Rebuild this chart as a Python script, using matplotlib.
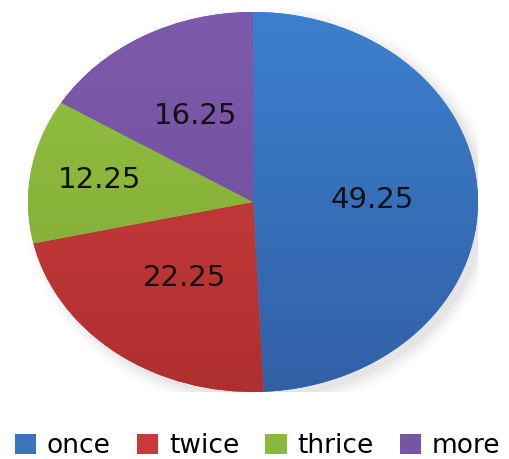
import numpy as np
import matplotlib
matplotlib.use("Agg")
import matplotlib.pyplot as plt
from matplotlib.patches import Ellipse, Patch
from matplotlib.colors import LinearSegmentedColormap

categories = ["once", "twice", "thrice", "more"]
values = [49.25, 22.25, 12.25, 16.25]

# top / bottom shades for the vertical gradient of each slice
top_colors = ["#3B80CE", "#D24242", "#93C443", "#7D5AAB"]
bottom_colors = ["#3260A6", "#AE2F2E", "#7FA532", "#6E4C98"]
legend_colors = ["#3A74BF", "#C83A3A", "#8AB83C", "#7655A4"]
label_radius = [0.53, 0.50, 0.69, 0.52]

fig = plt.figure(figsize=(5.10, 4.59), dpi=100)
ax = fig.add_axes([28 / 510, 1 - 392 / 459, 450 / 510, 380 / 459])

# soft shadow beneath the pie
for i, a in enumerate(np.linspace(0.05, 0.012, 6)):
    ax.add_patch(Ellipse((0.03, -0.03), 2.0 + 0.02 * i, 2.0 + 0.03 * i,
                         facecolor="#808080", edgecolor="none", alpha=a, zorder=0))

wedges, _ = ax.pie(values, startangle=90, counterclock=False, radius=1.0,
                   colors=legend_colors, wedgeprops=dict(linewidth=0))

grad = np.linspace(1, 0, 256).reshape(-1, 1)
for w, c0, c1 in zip(wedges, top_colors, bottom_colors):
    cmap = LinearSegmentedColormap.from_list("g", [c1, c0])
    im = ax.imshow(grad, cmap=cmap, extent=[-1, 1, -1, 1], aspect="auto",
                   zorder=2, origin="upper")
    im.set_clip_path(w)
    w.set_zorder(1)

cum = np.cumsum([0] + values)
total = sum(values)
for v, s, r in zip(values, cum[:-1], label_radius):
    mid = np.deg2rad(90 - 360 * (s + v / 2) / total)
    ax.text(r * np.cos(mid), r * np.sin(mid), f"{v:.2f}", ha="center",
            va="center", fontsize=21, color="#111111", zorder=5,
            family="DejaVu Sans")

ax.set_xlim(-1.0, 1.0)
ax.set_ylim(-1.0, 1.0)
ax.set_aspect("auto")
ax.axis("off")

handles = [Patch(facecolor=c, edgecolor="none") for c in legend_colors]
fig.legend(handles, categories, loc="center", bbox_to_anchor=(0.505, 0.028),
           ncol=4, frameon=False, fontsize=19, handlelength=0.8,
           handleheight=0.8, handletextpad=0.4, columnspacing=1.0,
           borderaxespad=0)

fig.savefig("out.png", dpi=100)
